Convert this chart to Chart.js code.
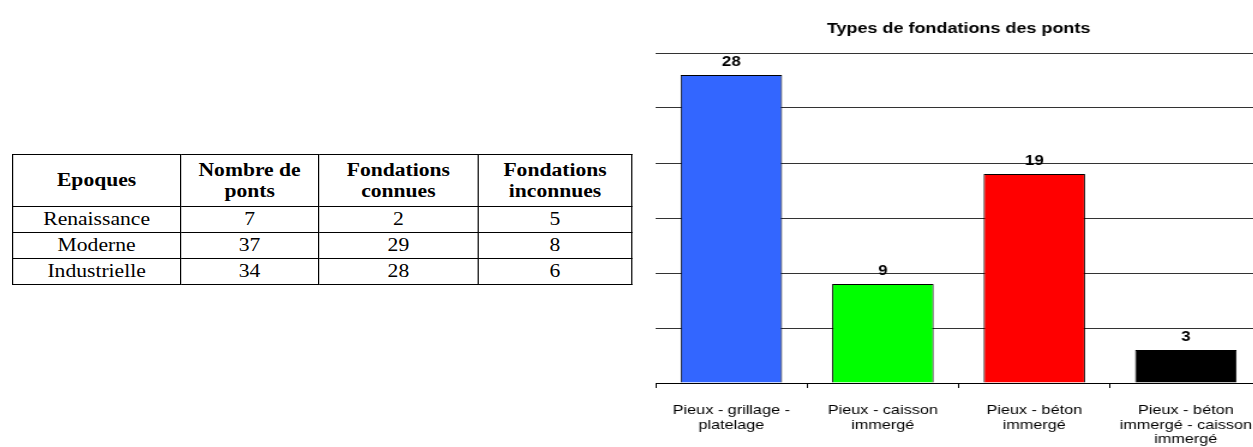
<!DOCTYPE html>
<html>
<head>
<meta charset="utf-8">
<script src="https://cdn.jsdelivr.net/npm/chart.js@4.4.1/dist/chart.umd.min.js"></script>
<style>
  html, body { margin: 0; padding: 0; background: #fff; width: 1253px; height: 447px; overflow: hidden; }
  #tableWrap { position: absolute; left: 12px; top: 154px; transform: scaleX(1.2); transform-origin: 0 0; }
  table { border-collapse: collapse; font-family: "Liberation Serif", "Times New Roman", serif; font-size: 18px; color: #000; }
  td, th { border: 1px solid #000; text-align: center; padding: 0; line-height: 21px; }
  th { font-weight: bold; height: 51px; }
  td { height: 25px; }
  #chartWrap { position: absolute; left: 640px; top: 0; transform: scaleX(1.2); transform-origin: 0 0; }
</style>
</head>
<body>
<div id="tableWrap">
  <table id="tbl">
    <colgroup>
      <col style="width:140px"><col style="width:115px"><col style="width:133px"><col style="width:128px">
    </colgroup>
    <thead>
      <tr>
        <th>Epoques</th>
        <th>Nombre de<br>ponts</th>
        <th>Fondations<br>connues</th>
        <th>Fondations<br>inconnues</th>
      </tr>
    </thead>
    <tbody id="tbody"></tbody>
  </table>
</div>
<div id="chartWrap">
  <canvas id="chart" width="518" height="447"></canvas>
</div>
<script>
// table data
const epoques = ['Renaissance', 'Moderne', 'Industrielle'];
const nombrePonts = [7, 37, 34];
const fondationsConnues = [2, 29, 28];
const fondationsInconnues = [5, 8, 6];

// chart data
const categories = [
  ['Pieux - grillage -', 'platelage'],
  ['Pieux - caisson', 'immergé'],
  ['Pieux - béton', 'immergé'],
  ['Pieux - béton', 'immergé - caisson', 'immergé']
];
const counts = [28, 9, 19, 3];
const chartTitle = 'Types de fondations des ponts';

const tbody = document.getElementById('tbody');
epoques.forEach((e, i) => {
  const tr = document.createElement('tr');
  [e, nombrePonts[i], fondationsConnues[i], fondationsInconnues[i]].forEach(v => {
    const td = document.createElement('td');
    td.textContent = v;
    tr.appendChild(td);
  });
  tbody.appendChild(tr);
});

// value labels above bars
const valueLabels = {
  id: 'valueLabels',
  afterDatasetsDraw(chart) {
    const ctx = chart.ctx;
    const meta = chart.getDatasetMeta(0);
    ctx.save();
    ctx.font = 'bold 14px "Liberation Sans", Arial, sans-serif';
    ctx.fillStyle = '#000';
    ctx.textAlign = 'center';
    ctx.textBaseline = 'alphabetic';
    meta.data.forEach((bar, i) => {
      ctx.fillText(String(counts[i]), bar.x, bar.y - 9);
    });
    ctx.restore();
  }
};

const ctx = document.getElementById('chart').getContext('2d');
new Chart(ctx, {
  type: 'bar',
  data: {
    labels: categories,
    datasets: [{
      data: counts,
      backgroundColor: ['#3366ff', '#00ff00', '#ff0000', '#000000'],
      borderColor: '#000',
      borderWidth: 1,
      barPercentage: 0.67,
      categoryPercentage: 1
    }]
  },
  options: {
    responsive: false,
    devicePixelRatio: 1,
    animation: false,
    layout: { padding: 0 },
    plugins: {
      legend: { display: false },
      tooltip: { enabled: false },
      title: {
        display: true,
        text: chartTitle,
        fullSize: false,
        color: '#000',
        font: { family: '"Liberation Sans", Arial, sans-serif', size: 15, weight: 'bold', lineHeight: 1.2 },
        padding: { top: 20, bottom: 15 }
      }
    },
    scales: {
      x: {
        border: { display: true, color: '#000', width: 1 },
        grid: { display: true, drawOnChartArea: false, drawTicks: true, tickLength: 5, color: '#000', offset: true },
        ticks: {
          color: '#000',
          autoSkip: false,
          maxRotation: 0,
          minRotation: 0,
          padding: 15,
          font: { family: '"Liberation Sans", Arial, sans-serif', size: 13.5, lineHeight: 1.08 }
        },
        afterFit(axis) {
          axis.height = 64;
          axis.paddingLeft = 0;
          axis.paddingRight = 0;
        }
      },
      y: {
        min: 0,
        max: 30,
        border: { display: false },
        grid: { color: '#333', drawTicks: false, lineWidth: 1 },
        ticks: { display: false, stepSize: 5 },
        afterFit(axis) { axis.width = 13; }
      }
    }
  },
  plugins: [valueLabels]
});
</script>
</body>
</html>
